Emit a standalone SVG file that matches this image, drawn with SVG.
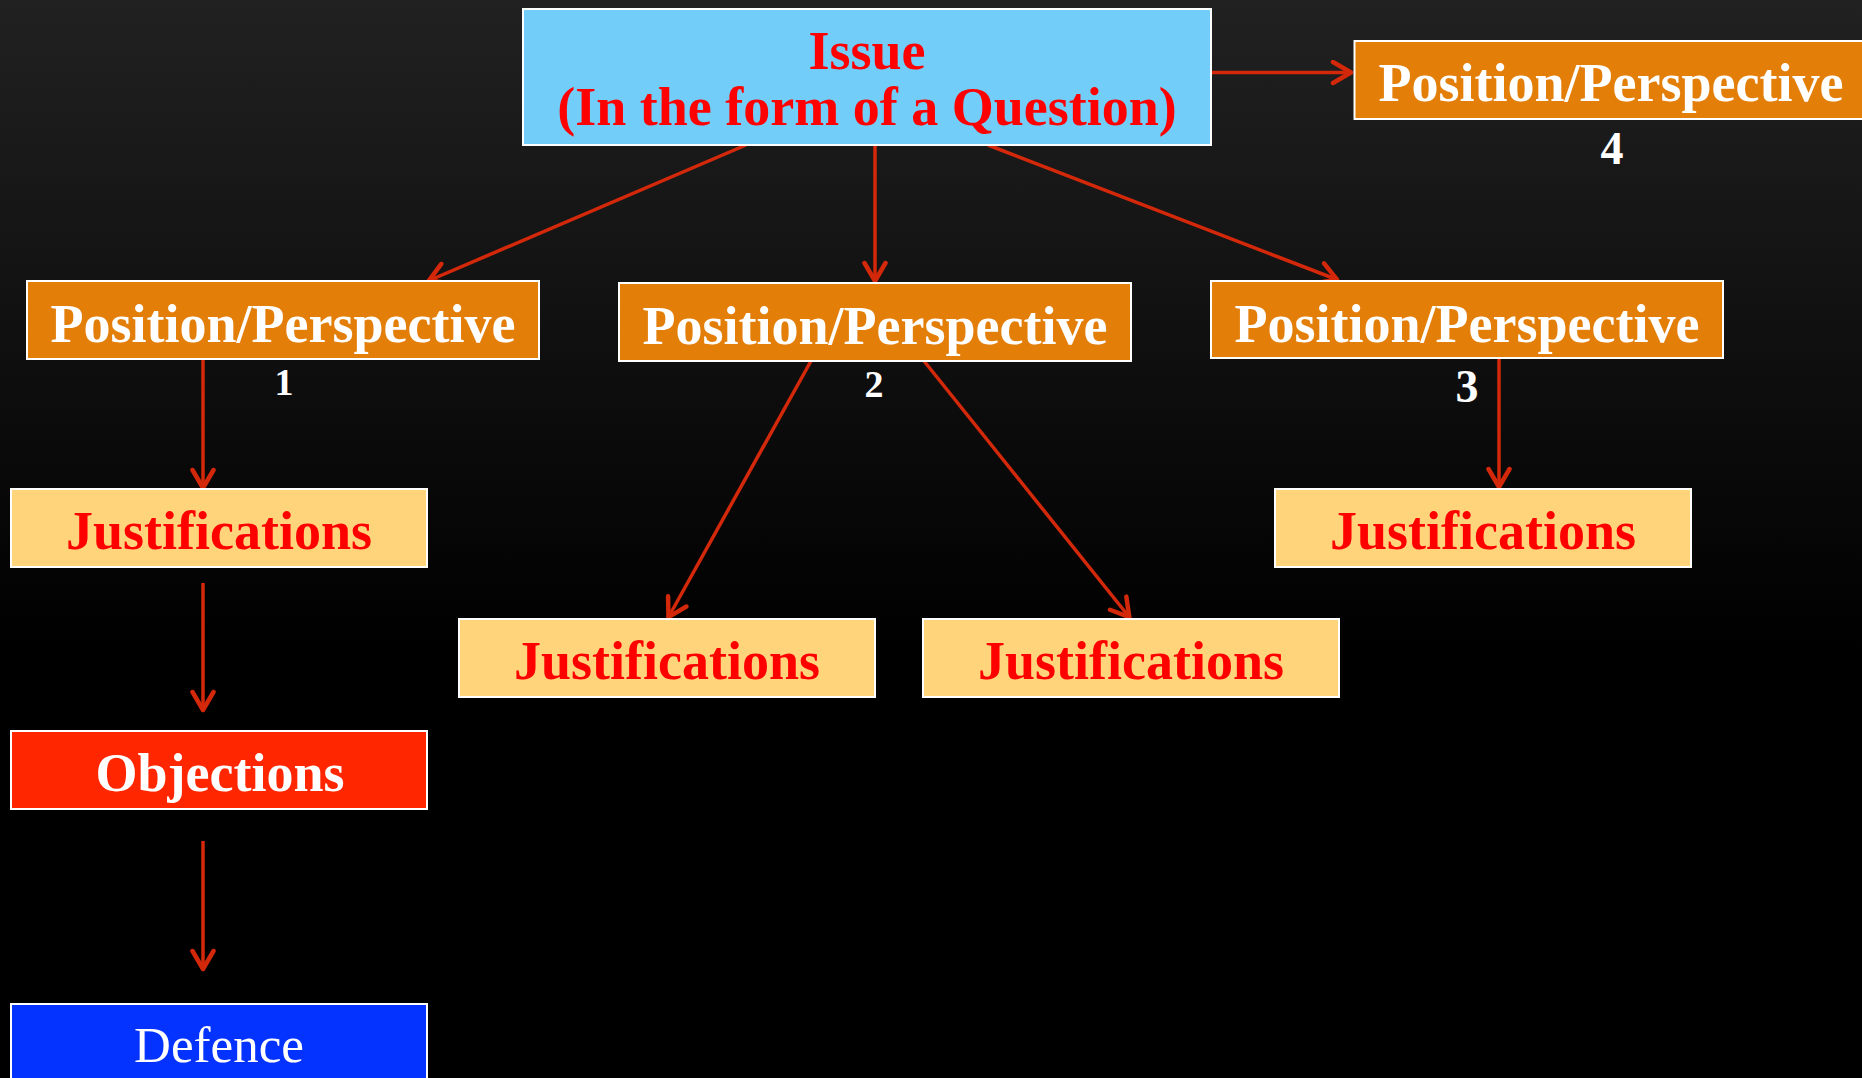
<svg xmlns="http://www.w3.org/2000/svg" width="1862" height="1078" viewBox="0 0 1862 1078">
<defs>
<linearGradient id="bg" x1="0" y1="0" x2="0" y2="1">
<stop offset="0" stop-color="#212121"/>
<stop offset="0.6" stop-color="#000000"/>
<stop offset="1" stop-color="#000000"/>
</linearGradient>
<marker id="arr" viewBox="0 0 24 26" refX="22" refY="13" markerWidth="24" markerHeight="26" markerUnits="userSpaceOnUse" orient="auto">
<path d="M3,2.5 L21,13 L3,23.5" fill="none" stroke="#D4280A" stroke-width="4.5" stroke-linecap="round" stroke-linejoin="round"/>
</marker>
<style>
.box{stroke:#FFFFFF;stroke-width:2}
.issue{fill:#72CEF9}
.pos{fill:#E37E09}
.just{fill:#FFD47B}
.obj{fill:#FF2600}
.def{fill:#0433FF}
text{font-family:"Liberation Serif","Times New Roman",serif;text-anchor:middle}
.t{font-size:54px;font-weight:bold}
.w{fill:#FFFFFF}
.r{fill:#FF0000}
.num{fill:#FFFFFF;font-weight:bold}
.small{font-size:38px}
.big{font-size:46px}
.con line{stroke:#D4280A;stroke-width:3.5;marker-end:url(#arr)}
</style>
</defs>
<rect width="1862" height="1078" fill="url(#bg)"/>
<g id="connectors" class="con">
<line x1="1211" y1="72.5" x2="1352" y2="72.5"/>
<line x1="746" y1="145" x2="428" y2="281"/>
<line x1="875" y1="145" x2="875" y2="282"/>
<line x1="988" y1="145" x2="1338" y2="280"/>
<line x1="203" y1="359" x2="203" y2="489"/>
<line x1="203" y1="583" x2="203" y2="711"/>
<line x1="203" y1="841" x2="203" y2="970"/>
<line x1="811" y1="361" x2="668" y2="618"/>
<line x1="924" y1="361" x2="1130" y2="618"/>
<line x1="1499" y1="358" x2="1499" y2="488"/>
</g>
<g id="issue">
<rect class="box issue" x="523" y="9" width="688" height="136"/>
<text class="t r" x="867" y="69">Issue</text>
<text class="t r" x="867" y="125">(In the form of a Question)</text>
</g>
<g id="pos4">
<rect class="box pos" x="1354.5" y="41" width="520" height="78"/>
<text class="t w" x="1611" y="101">Position/Perspective</text>
<text class="num big" x="1612" y="164">4</text>
</g>
<g id="pos1">
<rect class="box pos" x="27" y="281" width="512" height="78"/>
<text class="t w" x="283" y="342">Position/Perspective</text>
<text class="num small" x="284" y="395">1</text>
</g>
<g id="pos2">
<rect class="box pos" x="619" y="283" width="512" height="78"/>
<text class="t w" x="875" y="344">Position/Perspective</text>
<text class="num small" x="874" y="397">2</text>
</g>
<g id="pos3">
<rect class="box pos" x="1211" y="281" width="512" height="77"/>
<text class="t w" x="1467" y="342">Position/Perspective</text>
<text class="num big" x="1467" y="402">3</text>
</g>
<g id="just1">
<rect class="box just" x="11" y="489" width="416" height="78"/>
<text class="t r" x="219" y="549">Justifications</text>
</g>
<g id="just2a">
<rect class="box just" x="459" y="619" width="416" height="78"/>
<text class="t r" x="667" y="679">Justifications</text>
</g>
<g id="just2b">
<rect class="box just" x="923" y="619" width="416" height="78"/>
<text class="t r" x="1131" y="679">Justifications</text>
</g>
<g id="just3">
<rect class="box just" x="1275" y="489" width="416" height="78"/>
<text class="t r" x="1483" y="549">Justifications</text>
</g>
<g id="objections">
<rect class="box obj" x="11" y="731" width="416" height="78"/>
<text class="t w" x="220" y="791">Objections</text>
</g>
<g id="defence">
<rect class="box def" x="11" y="1004" width="416" height="90"/>
<text class="w" x="219" y="1062" style="font-size:51px">Defence</text>
</g>
</svg>
